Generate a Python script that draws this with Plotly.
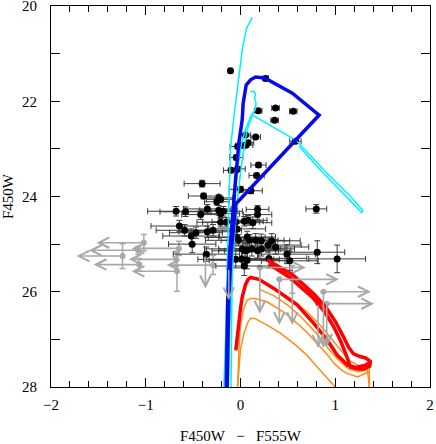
import plotly.graph_objects as go

# --- observed stars with photometry in both bands (black) ---
BLK_COL = [-0.106, 0.265, 0.187, 0.37, 0.557, 0.36, 0.053, 0.16, -0.03, 0.01,
           0.06, 0.08, 0.58, -0.045, 0.19, -0.10, -0.03, 0.17, -0.405, 0.0,
           0.11, -0.39, -0.23, -0.21, -0.25, 0.80, -0.68, -0.58, -0.35, -0.42,
           -0.23, -0.21, -0.18, 0.18, 0.18, -0.645, -0.59, -0.52, -0.51, -0.47,
           -0.35, -0.29, -0.21, -0.15, -0.05, -0.035, 0.04, 0.08, 0.13, -0.04,
           -0.02, 0.07, 0.095, 0.16, 0.22, 0.33, -0.36, 0.02, 0.05, 0.07,
           0.12, 0.18, 0.22, 0.29, 0.37, -0.05, 0.01, 0.07, 0.04, 0.30,
           0.49, 0.52, 0.81, 1.02]
BLK_MAG = [21.36, 21.52, 22.20, 22.14, 22.21, 22.40, 22.71, 22.75, 22.95, 22.93,
           22.92, 22.87, 22.84, 23.18, 23.34, 23.45, 23.42, 23.56, 23.73, 23.85,
           23.88, 23.99, 24.03, 24.06, 24.11, 24.26, 24.31, 24.32, 24.26, 24.38,
           24.29, 24.36, 24.31, 24.27, 24.38, 24.62, 24.71, 24.83, 25.00, 24.76,
           24.74, 24.71, 24.54, 24.54, 24.53, 24.68, 24.52, 24.50, 24.55, 24.86,
           24.92, 24.85, 24.92, 24.92, 24.93, 24.93, 25.21, 25.10, 25.14, 25.13,
           25.10, 25.14, 25.10, 25.02, 25.06, 25.32, 25.32, 25.34, 25.46, 25.30,
           25.21, 25.35, 25.17, 25.31]
BLK_COL_ERR = [0.02, 0.03, 0.04, 0.04, 0.04, 0.04, 0.05, 0.05, 0.08, 0.06,
               0.07, 0.06, 0.06, 0.07, 0.08, 0.08, 0.08, 0.08, 0.19, 0.12,
               0.12, 0.16, 0.15, 0.15, 0.13, 0.11, 0.30, 0.27, 0.25, 0.20,
               0.20, 0.20, 0.20, 0.12, 0.15, 0.30, 0.30, 0.30, 0.25, 0.28,
               0.30, 0.30, 0.25, 0.25, 0.25, 0.30, 0.20, 0.20, 0.20, 0.30,
               0.35, 0.30, 0.30, 0.30, 0.30, 0.30, 0.35, 0.40, 0.35, 0.30,
               0.35, 0.35, 0.35, 0.35, 0.35, 0.40, 0.40, 0.40, 0.30, 0.40,
               0.30, 0.30, 0.29, 0.30]
BLK_MAG_ERR = [0.03, 0.03, 0.03, 0.03, 0.03, 0.03, 0.03, 0.03, 0.04, 0.04,
               0.04, 0.04, 0.04, 0.05, 0.05, 0.05, 0.05, 0.05, 0.07, 0.06,
               0.06, 0.06, 0.07, 0.07, 0.07, 0.09, 0.10, 0.10, 0.09, 0.10,
               0.10, 0.10, 0.10, 0.08, 0.10, 0.12, 0.12, 0.15, 0.18, 0.12,
               0.12, 0.12, 0.10, 0.10, 0.10, 0.12, 0.10, 0.10, 0.12, 0.12,
               0.12, 0.12, 0.12, 0.14, 0.14, 0.15, 0.15, 0.15, 0.15, 0.15,
               0.15, 0.15, 0.15, 0.15, 0.15, 0.18, 0.18, 0.18, 0.20, 0.20,
               0.20, 0.20, 0.24, 0.29]

# --- stars with limits (grey) ---
GRAY_COL = [-1.02, -1.08, -1.245, -1.07, -0.65, -0.68, -0.67, -0.29,
            -0.37, -0.124, 0.204, 0.41, 0.547, 0.875, 0.818, 0.91]
GRAY_MAG = [24.97, 25.13, 25.25, 25.43, 25.09, 25.32, 25.57, 25.44,
            25.23, 25.51, 25.49, 25.74, 25.74, 26.00, 26.25, 26.25]
GRAY_MAG_ERR = [0.17, 0.08, 0.26, 0.13, 0.15, 0.15, 0.42, 0.20,
                0.0, 0.0, 0.0, 0.0, 0.29, 0.0, 0.0, 0.0]
LIM_LEFT = [-1.52, -1.60, -1.73, -1.55, -1.15, -1.18, -1.15, -0.78,
            None, None, None, None, None, None, None, None]
LIM_RIGHT = [None, None, None, None, None, None, None, None,
             None, None, 0.69, 1.04, None, 1.375, None, 1.41]
LIM_DOWN = [None, None, None, None, None, None, None, None,
            25.93, 26.18, 26.46, 26.70, 26.70, 27.18, 27.18, 27.16]

# --- model tracks ---
CYAN1_X = [-0.175, -0.16, -0.145, -0.135, -0.12, -0.106, -0.07, -0.018, 0.018, 0.063, 0.124]
CYAN1_Y = [28.0, 27.0, 26.2, 25.0, 24.0, 23.0, 22.33, 21.49, 20.92, 20.47, 20.24]

CYAN2_X = [0.106, 0.14, 0.159, 0.15, 0.165, 0.155, 0.12, 0.09, 0.05, 0.01, -0.03,
           -0.06, -0.08, -0.09, -0.095, -0.10]
CYAN2_Y = [21.80, 21.79, 21.85, 21.95, 22.05, 22.18, 22.27, 22.40, 22.60, 22.90, 23.40,
           24.0, 25.0, 26.0, 27.0, 28.0]

CYAN3_X = [-0.13, -0.12, -0.10, -0.07, -0.03, 0.02, 0.07, 0.125, 0.35, 0.582, 0.881,
           1.164, 1.29, 1.28, 1.14, 0.86, 0.62]
CYAN3_Y = [28.0, 27.0, 26.0, 25.0, 24.0, 23.2, 22.6, 22.29, 22.55, 22.815, 23.445,
           24.006, 24.29, 24.34, 24.05, 23.48, 22.95]

BLUE_X = [-0.15, -0.135, -0.115, -0.085, -0.053, -0.018, 0.018, 0.028, 0.042, 0.06,
          0.106, 0.159, 0.21, 0.265, 0.547, 0.83, -0.05, -0.10, -0.125, -0.14]
BLUE_Y = [28.0, 26.2, 25.2, 24.4, 23.66, 22.88, 22.39, 22.04, 21.83, 21.66,
          21.55, 21.49, 21.50, 21.52, 21.83, 22.29, 24.16, 25.2, 26.2, 28.0]

RED1_X = [0.28, 0.42, 0.55, 0.66, 0.78, 0.90, 1.00, 1.08, 1.14, 1.19, 1.26, 1.32,
          1.37, 1.365, 1.30, 1.235, 1.16, 1.12, 1.06, 0.98, 0.88, 0.76, 0.64, 0.52,
          0.40, 0.30]
RED1_Y = [25.33, 25.48, 25.64, 25.84, 26.06, 26.32, 26.62, 26.92, 27.16, 27.30, 27.36, 27.39,
          27.46, 27.56, 27.62, 27.62, 27.58, 27.35, 27.05, 26.72, 26.40, 26.12, 25.90, 25.70,
          25.55, 25.42]

RED2_X = [-0.05, -0.03, -0.018, 0.0, 0.018, 0.053, 0.08, 0.106, 0.194, 0.352, 0.6,
          0.776, 0.917, 1.02, 1.13, 1.217, 1.32, 1.376]
RED2_Y = [27.23, 26.95, 26.67, 26.35, 26.11, 25.85, 25.74, 25.70, 25.74, 25.93, 26.28,
          26.67, 27.02, 27.33, 27.54, 27.59, 27.54, 27.47]

ORANGE = [
    ([0.26, 0.40, 0.55, 0.70, 0.85, 0.97, 1.06, 1.15, 1.25, 1.36, 1.36],
     [25.83, 25.98, 26.17, 26.42, 26.72, 27.02, 27.25, 27.45, 27.55, 27.58, 28.0]),
    ([0.20, 0.35, 0.50, 0.65, 0.80, 0.93, 1.04, 1.14, 1.24, 1.34, 1.36],
     [25.95, 26.08, 26.28, 26.55, 26.87, 27.20, 27.45, 27.62, 27.68, 27.64, 28.0]),
    ([-0.03, -0.025, -0.015, 0.0, 0.03, 0.07, 0.106, 0.15, 0.28, 0.45, 0.564, 0.70,
      0.81, 0.92, 0.99, 1.07, 1.13, 1.235, 1.36],
     [28.0, 27.6, 27.1, 26.7, 26.38, 26.18, 26.14, 26.14, 26.21, 26.42, 26.60, 26.85,
      27.09, 27.33, 27.51, 27.65, 27.72, 27.79, 27.68]),
    ([-0.03, -0.02, 0.0, 0.04, 0.08, 0.106, 0.15, 0.28, 0.42, 0.564, 0.70, 0.81, 0.93, 1.0],
     [28.0, 27.7, 27.2, 26.85, 26.63, 26.56, 26.56, 26.70, 26.87, 27.09, 27.33, 27.58, 27.86, 28.0]),
]

X_TICKS = [-2, -1, 0, 1, 2]
Y_TICKS = [20, 21, 22, 23, 24, 25, 26, 27, 28]
Y_LABELS = ["20", "", "22", "", "24", "", "26", "", "28"]

GRAY = "#a8a8a8"
FONT = "Liberation Serif"

fig = go.Figure()

# grey limit stars
fig.add_trace(go.Scatter(
    x=GRAY_COL, y=GRAY_MAG, mode="markers",
    marker=dict(color=GRAY, size=6),
    error_y=dict(type="data", array=GRAY_MAG_ERR, color=GRAY, thickness=1.5, width=3),
    showlegend=False,
))

# black stars
fig.add_trace(go.Scatter(
    x=BLK_COL, y=BLK_MAG, mode="markers",
    marker=dict(color="black", size=7),
    error_x=dict(type="data", array=BLK_COL_ERR, color="#3c3c3c", thickness=1, width=3),
    error_y=dict(type="data", array=BLK_MAG_ERR, color="#3c3c3c", thickness=1, width=3),
    showlegend=False,
))

# model tracks
for xs, ys in ORANGE:
    fig.add_trace(go.Scatter(x=xs, y=ys, mode="lines",
                             line=dict(color="#ff8c1a", width=1.5), showlegend=False))
fig.add_trace(go.Scatter(x=RED2_X, y=RED2_Y, mode="lines",
                         line=dict(color="#ff0000", width=3.5), showlegend=False))
fig.add_trace(go.Scatter(x=RED1_X, y=RED1_Y, mode="lines",
                         line=dict(color="#ff0000", width=3.5), showlegend=False))
for xs, ys in [(CYAN1_X, CYAN1_Y), (CYAN2_X, CYAN2_Y), (CYAN3_X, CYAN3_Y)]:
    fig.add_trace(go.Scatter(x=xs, y=ys, mode="lines",
                             line=dict(color="#00f0ff", width=1.5), showlegend=False))
fig.add_trace(go.Scatter(x=BLUE_X, y=BLUE_Y, mode="lines",
                         line=dict(color="#0a0ae6", width=3.5), showlegend=False))

# limit arrows
arrow = dict(showarrow=True, text="", axref="x", ayref="y", arrowhead=5,
             arrowsize=1.3, arrowwidth=1.6, arrowcolor=GRAY, standoff=0)
for i, (c, m) in enumerate(zip(GRAY_COL, GRAY_MAG)):
    if LIM_LEFT[i] is not None:
        fig.add_annotation(x=LIM_LEFT[i], y=m, ax=c, ay=m, **arrow)
    if LIM_RIGHT[i] is not None:
        fig.add_annotation(x=LIM_RIGHT[i], y=m, ax=c, ay=m, **arrow)
    if LIM_DOWN[i] is not None:
        fig.add_annotation(x=c, y=LIM_DOWN[i], ax=c, ay=m, **arrow)

axis_common = dict(
    showline=True, linecolor="black", linewidth=1, mirror="ticks",
    ticks="inside", tickcolor="black", tickwidth=1, ticklen=9,
    showgrid=False, zeroline=False, ticklabeloverflow="allow", automargin=False,
    tickfont=dict(family=FONT, size=15, color="black"),
)

fig.update_xaxes(
    range=[X_TICKS[0], X_TICKS[-1]], tickmode="linear",
    tick0=X_TICKS[0], dtick=X_TICKS[1] - X_TICKS[0],
    minor=dict(tickmode="linear", tick0=X_TICKS[0], dtick=0.2, ticks="inside",
               ticklen=6, tickcolor="black", tickwidth=1, showgrid=False),
    title=dict(text="F450W\u00a0\u00a0\u00a0\u2212\u00a0\u00a0\u00a0F555W",
               font=dict(family=FONT, size=15, color="black"), standoff=18),
    ticklabelstandoff=4,
    **axis_common,
)
fig.update_yaxes(
    range=[Y_TICKS[-1], Y_TICKS[0]], tickmode="array", tickvals=Y_TICKS, ticktext=Y_LABELS,
    title=dict(text="F450W", font=dict(family=FONT, size=15, color="black"), standoff=4),
    ticklabelstandoff=10,
    **axis_common,
)

fig.update_layout(
    width=436, height=444,
    margin=dict(l=51, r=6, t=6, b=57),
    plot_bgcolor="white", paper_bgcolor="white",
    showlegend=False,
)

# the page's default body margin would push the figure 8px down and right
fig.write_html("out.html", config={"displayModeBar": False},
               post_script="document.body.style.margin = '0';")
